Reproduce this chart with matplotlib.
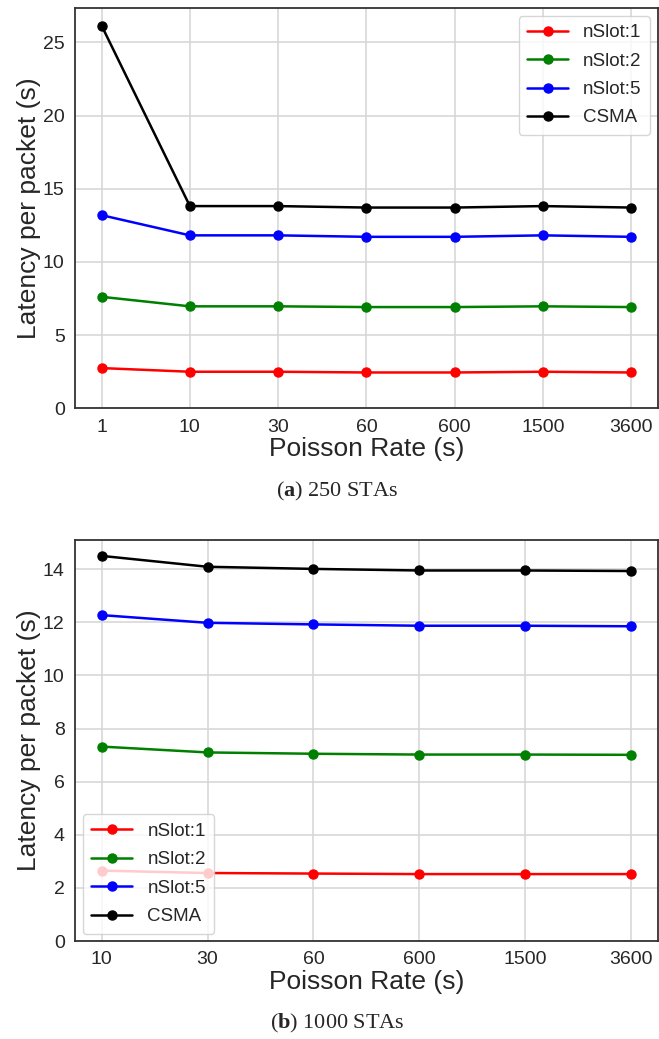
import numpy as np
import matplotlib
matplotlib.use("Agg")
import matplotlib.pyplot as plt
import seaborn as sns

# data
rates_a = ["1", "10", "30", "60", "600", "1500", "3600"]
slot1_a = [2.75, 2.5, 2.5, 2.45, 2.45, 2.5, 2.45]
slot2_a = [7.62, 6.97, 6.97, 6.92, 6.92, 6.97, 6.92]
slot5_a = [13.2, 11.82, 11.82, 11.72, 11.72, 11.82, 11.72]
csma_a = [26.15, 13.82, 13.82, 13.72, 13.72, 13.82, 13.72]

rates_b = ["10", "30", "60", "600", "1500", "3600"]
slot1_b = [2.65, 2.56, 2.54, 2.52, 2.52, 2.52]
slot2_b = [7.32, 7.1, 7.05, 7.02, 7.02, 7.01]
slot5_b = [12.27, 11.98, 11.92, 11.87, 11.87, 11.85]
csma_b = [14.5, 14.09, 14.01, 13.95, 13.95, 13.93]

labels = ["nSlot:1", "nSlot:2", "nSlot:5", "CSMA"]
colors = ["red", "green", "blue", "black"]

sns.set_style("whitegrid")
plt.rcParams['font.family'] = ['Liberation Sans', 'DejaVu Sans']
plt.rcParams['mathtext.fontset'] = 'custom'
plt.rcParams['mathtext.bf'] = 'Liberation Serif:bold'
plt.rcParams['mathtext.rm'] = 'Liberation Serif'

fig = plt.figure(figsize=(6.59, 10.39), dpi=100)
ax1 = fig.add_axes([0.114, 0.607, 0.884, 0.385])
ax2 = fig.add_axes([0.114, 0.0943, 0.884, 0.386])


def draw(ax, rates, series, loc):
    x = np.arange(len(rates))
    for ys, lab, c in zip(series, labels, colors):
        ax.plot(x, ys, "-o", color=c, label=lab, lw=1.8, ms=6.5)
    ax.set_xticks(x)
    ax.set_xticklabels(rates)
    ax.set_ylim(bottom=0)
    ax.set_xlabel("Poisson Rate (s)", fontsize=19, labelpad=1)
    ax.set_ylabel("Latency per packet (s)", fontsize=19, labelpad=1.5)
    ax.tick_params(labelsize=14, pad=4, colors="#262626")
    for s in ax.spines.values():
        s.set_color("#333333")
        s.set_linewidth(1.3)
    ax.grid(True, color="#d5d5d5", lw=1.1)
    ax.legend(loc=loc, fontsize=13.5, frameon=True, handlelength=2.2,
              handletextpad=0.8, borderpad=0.45, labelspacing=0.6,
              borderaxespad=0.4)


draw(ax1, rates_a, [slot1_a, slot2_a, slot5_a, csma_a], "upper right")
draw(ax2, rates_b, [slot1_b, slot2_b, slot5_b, csma_b], "lower left")

fig.text(0.512, 0.527, r"($\mathbf{a}$) 250 STAs", ha="center", va="center",
         fontsize=16, family="Liberation Serif")
fig.text(0.512, 0.015, r"($\mathbf{b}$) 1000 STAs", ha="center", va="center",
         fontsize=16, family="Liberation Serif")

fig.savefig("out.png", dpi=100)
